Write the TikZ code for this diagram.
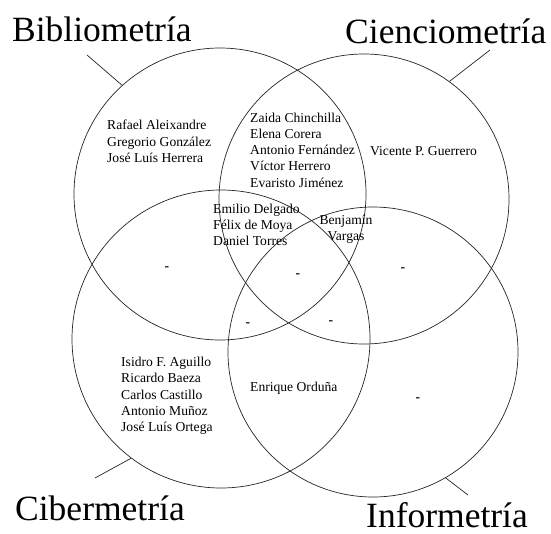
\documentclass[tikz,border=0pt]{standalone}
\usepackage{fontspec}
\setmainfont{Liberation Serif}
\begin{document}
\begin{tikzpicture}[x=1pt,y=-1pt,
  ring/.style={circle,draw=black!85,line width=0.7pt,inner sep=0pt,minimum size=#1},
  field/.style={font=\fontsize{35.5}{40}\selectfont,inner sep=0pt,anchor=base west},
  names/.style={font=\fontsize{13.6}{16.3}\selectfont,inner sep=0pt,align=left,anchor=west},
  nil/.style={font=\fontsize{13.6}{16}\selectfont\bfseries,inner sep=0pt},
  leader/.style={draw=black!85,line width=0.7pt}]
\useasboundingbox[fill=white] (0,0) rectangle (551,533);

% the four overlapping fields
\node[ring=292pt] (bib) at (220,194) {};
\node[ring=290pt] (cie) at (364,199) {};
\node[ring=298pt] (cib) at (221,339) {};
\node[ring=290pt] (inf) at (373,352) {};

% field titles
\node[field] (tbib) at (12,41) {Bibliometría};
\node[field] (tcie) at (345,43) {Cienciometría};
\node[field] (tcib) at (15,520) {Cibermetría};
\node[field] (tinf) at (366,527) {Informetría};

% leader lines from titles to circles
\coordinate (lbib) at (87,55);
\coordinate (lcie) at (490,50);
\coordinate (lcib) at (95,478);
\coordinate (linf) at (468,495);
\draw[leader] (lbib) -- (bib.132.5);
\draw[leader] (lcie) -- (cie.54.8);
\draw[leader] (lcib) -- (cib.233);
\draw[leader] (linf) -- (inf.-60);

% authors in each region
\node[names] (n1) at (107,141.5) {Rafael Aleixandre\\Gregorio González\\José Luís Herrera};
\node[names] (n2) at (250,150) {Zaida Chinchilla\\Elena Corera\\Antonio Fernández\\Víctor Herrero\\Evaristo Jiménez};
\node[names] (n3) at (370,151) {Vicente P. Guerrero};
\node[names] (n4) at (213,225) {Emilio Delgado\\Félix de Moya\\Daniel Torres};
\node[names,align=center,anchor=center] (n5) at (346,229) {Benjamín\\Vargas};
\node[names] (n6) at (121,396) {Isidro F. Aguillo\\Ricardo Baeza\\Carlos Castillo\\Antonio Muñoz\\José Luís Ortega};
\node[names] (n7) at (250,388) {Enrique Orduña};

% empty regions
\node[nil] (d1) at (167,269) {-};
\node[nil] (d2) at (298,276) {-};
\node[nil] (d3) at (403,270) {-};
\node[nil] (d4) at (248,325) {-};
\node[nil] (d5) at (331,323) {-};
\node[nil] (d6) at (418,400) {-};
\end{tikzpicture}
\end{document}
